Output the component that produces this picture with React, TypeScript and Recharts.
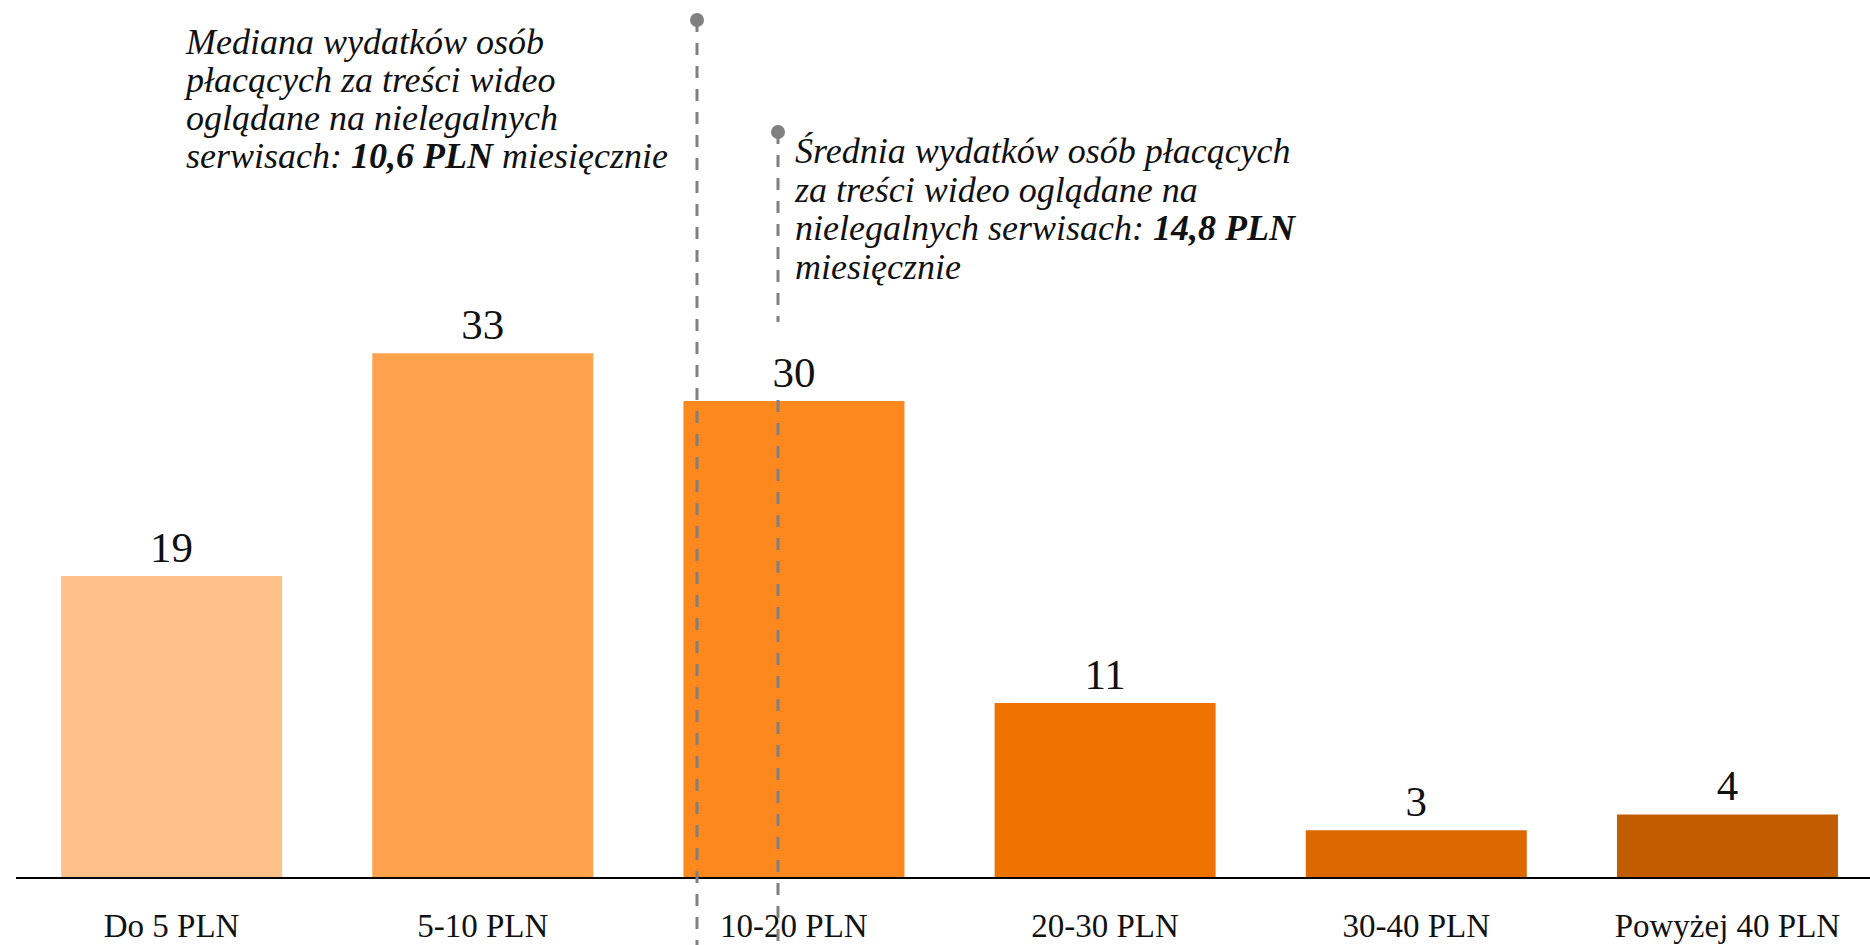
import { BarChart, Bar, XAxis, YAxis, Cell, LabelList } from 'recharts';

const categories = ['Do 5 PLN', '5-10 PLN', '10-20 PLN', '20-30 PLN', '30-40 PLN', 'Powyżej 40 PLN'];
const shares = [19, 33, 30, 11, 3, 4];
const barColors = ['#FFC18A', '#FEA24C', '#FD881E', '#EF7300', '#DB6800', '#C25C00'];

const medianLines = ['Mediana wydatków osób', 'płacących za treści wideo', 'oglądane na nielegalnych'];
const meanLines = ['Średnia wydatków osób płacących', 'za treści wideo oglądane na'];

const data = categories.map((name, i) => ({ name, value: shares[i] }));

const FONT = '"Liberation Serif", "DejaVu Serif", serif';
const GREY = '#808080';

const AxisTick = ({ x, y, payload }: any) => (
  <text x={x} y={y + 57} textAnchor="middle" fontSize={33} fontFamily={FONT} fill="#111">
    {payload.value}
  </text>
);

// annotation overlay: dashed markers and the two italic notes
const Notes = () => (
  <svg width={1870} height={945} style={{ position: 'absolute', left: 0, top: 0, pointerEvents: 'none' }}>
    <line x1={697} y1={20} x2={697} y2={945} stroke={GREY} strokeWidth={3} strokeDasharray="12 11" />
    <circle cx={697} cy={20} r={7} fill={GREY} />
    <line x1={778} y1={132} x2={778} y2={322} stroke={GREY} strokeWidth={3} strokeDasharray="12 11" />
    <line x1={778} y1={400} x2={778} y2={945} stroke={GREY} strokeWidth={3} strokeDasharray="12 11" />
    <circle cx={778} cy={132} r={7} fill={GREY} />
    <g fontFamily={FONT} fontStyle="italic" fontSize={36} fill="#111">
      {medianLines.map((t, i) => (
        <text key={t} x={186} y={54 + i * 38}>{t}</text>
      ))}
      <text x={186} y={54 + 3 * 38}>
        serwisach: <tspan fontWeight="bold">10,6 PLN</tspan> miesięcznie
      </text>
      {meanLines.map((t, i) => (
        <text key={t} x={795} y={163 + i * 38.5}>{t}</text>
      ))}
      <text x={795} y={163 + 2 * 38.5}>
        nielegalnych serwisach: <tspan fontWeight="bold">14,8 PLN</tspan>
      </text>
      <text x={795} y={163 + 3 * 38.5}>miesięcznie</text>
    </g>
  </svg>
);

export default function App() {
  return (
    <div style={{ position: 'absolute', left: 0, top: 0, width: 1870, height: 945, overflow: 'hidden', background: '#fff' }}>
      <BarChart
        width={1900}
        height={945}
        data={data}
        margin={{ top: 83, right: 17, bottom: 37, left: 16 }}
        barCategoryGap="14.5%"
      >
        <XAxis
          dataKey="name"
          height={30}
          axisLine={{ stroke: '#000', strokeWidth: 2 }}
          tickLine={false}
          tickSize={0}
          tick={<AxisTick />}
          interval={0}
        />
        <YAxis hide domain={[0, 50]} />
        <Bar dataKey="value" isAnimationActive={false}>
          {data.map((d, i) => (
            <Cell key={d.name} fill={barColors[i]} />
          ))}
          <LabelList dataKey="value" position="top" offset={14} fontSize={43} fontFamily={FONT} fill="#111" />
        </Bar>
      </BarChart>
      <Notes />
    </div>
  );
}
